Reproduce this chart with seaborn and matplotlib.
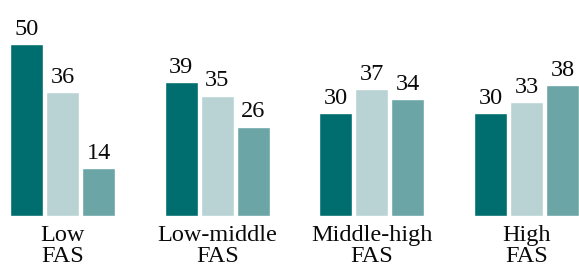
import matplotlib
matplotlib.use("Agg")
import matplotlib.pyplot as plt
import seaborn as sns
import pandas as pd

categories = ["Low\nFAS", "Low-middle\nFAS", "Middle-high\nFAS", "High\nFAS"]
series_names = ["Series 1", "Series 2", "Series 3"]
series_1 = [50, 39, 30, 30]
series_2 = [36, 35, 37, 33]
series_3 = [14, 26, 34, 38]
colors = ["#006e6e", "#b9d3d4", "#6ba5a6"]

rows = []
for name, vals in zip(series_names, [series_1, series_2, series_3]):
    for c, v in zip(categories, vals):
        rows.append({"category": c, "series": name, "value": v})
df = pd.DataFrame(rows)

sns.set_style("white")
plt.rcParams["font.family"] = ["Liberation Serif", "DejaVu Serif"]

fig = plt.figure(figsize=(5.79, 2.69), dpi=100)
ax = fig.add_axes([0, 53 / 269, 1, 216 / 269])
sns.barplot(data=df, x="category", y="value", hue="series", palette=colors,
            width=0.698, gap=0.083, saturation=1, legend=False, ax=ax,
            errorbar=None)
for cont in ax.containers:
    ax.bar_label(cont, fmt="%d", padding=3, fontsize=17.5, color="#0a0a0a")
ax.set_xlim(-0.404, 3.339)
ax.set_ylim(0, 62.8)
ax.set_xlabel("")
ax.set_ylabel("")
ax.set_yticks([])
ax.tick_params(axis="x", length=0, pad=6.5, labelsize=17.5, labelcolor="#0a0a0a")
for lbl in ax.get_xticklabels():
    lbl.set_linespacing(1.02)
for s in ax.spines.values():
    s.set_visible(False)
fig.savefig("out.png", dpi=100)
